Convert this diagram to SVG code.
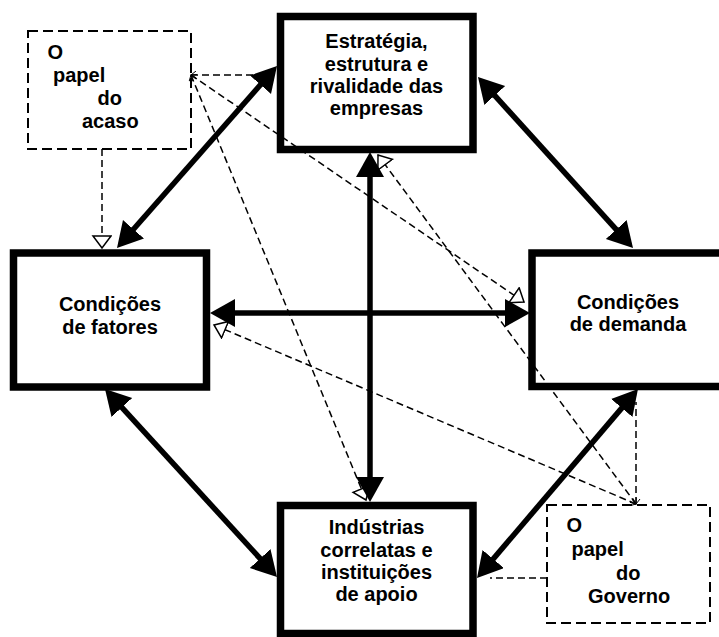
<svg xmlns="http://www.w3.org/2000/svg" width="719" height="637" viewBox="0 0 719 637">
<style>
.box{fill:#fff;stroke:#000;stroke-width:7.5}
.chance{fill:#fff;stroke:#000;stroke-width:2;stroke-dasharray:10 5}
.t{font-family:"Liberation Sans",Arial,sans-serif;font-weight:bold;font-size:20px;fill:#000}
.c{text-anchor:middle}
.solid{stroke:#000;stroke-width:5.5;fill:none;marker-start:url(#big);marker-end:url(#big)}
.dash{stroke:#000;stroke-width:1.5;fill:none;stroke-dasharray:7 4}
.tip{marker-end:url(#small)}
.src{marker-start:url(#open)}
</style>
<defs>
<marker id="big" markerUnits="userSpaceOnUse" markerWidth="26" markerHeight="30" refX="15" refY="14" orient="auto-start-reverse">
<path d="M0,0 L25,14 L0,28 Z" fill="#000"/>
</marker>
<marker id="small" markerUnits="userSpaceOnUse" markerWidth="16" markerHeight="22" refX="13" refY="10" orient="auto">
<path d="M1,1 L13,10 L1,19 Z" fill="#fff" stroke="#000" stroke-width="1.5"/>
</marker>
<marker id="open" markerUnits="userSpaceOnUse" markerWidth="10" markerHeight="10" refX="1" refY="4" orient="auto">
<path d="M6,0 L1,4 L6,8" fill="none" stroke="#000" stroke-width="1"/>
</marker>
</defs>

<g id="estrategia">
<rect class="box" x="280.5" y="16.5" width="192.5" height="133"/>
<text class="t c" x="376.5" y="48">Estratégia,</text>
<text class="t c" x="376.5" y="70.5">estrutura e</text>
<text class="t c" x="376.5" y="92.5">rivalidade das</text>
<text class="t c" x="376.5" y="114.5">empresas</text>
</g>
<g id="fatores">
<rect class="box" x="13.5" y="253" width="193" height="134"/>
<text class="t c" x="110" y="311">Condições</text>
<text class="t c" x="110" y="334">de fatores</text>
</g>
<g id="demanda">
<rect class="box" x="532" y="253" width="193" height="133.5"/>
<text class="t c" x="628" y="308.5">Condições</text>
<text class="t c" x="628" y="331">de demanda</text>
</g>
<g id="industrias">
<rect class="box" x="280.5" y="505.5" width="192.5" height="128"/>
<text class="t c" x="376.5" y="534">Indústrias</text>
<text class="t c" x="376.5" y="556.5">correlatas e</text>
<text class="t c" x="376.5" y="578.5">instituições</text>
<text class="t c" x="376.5" y="600.5">de apoio</text>
</g>
<g id="acaso">
<rect class="chance" x="28" y="31" width="163" height="118"/>
<text class="t" x="47.5" y="58.5">O</text>
<text class="t" x="53" y="81.5">papel</text>
<text class="t" x="97.5" y="105">do</text>
<text class="t" x="82" y="128">acaso</text>
</g>
<g id="governo">
<rect class="chance" x="547" y="505" width="163" height="118"/>
<text class="t" x="566.5" y="531.5">O</text>
<text class="t" x="571.5" y="556">papel</text>
<text class="t" x="616" y="579.5">do</text>
<text class="t" x="588" y="602.5">Governo</text>
</g>

<g id="connectors">
<line class="dash tip" x1="102" y1="149" x2="102" y2="248"/>
<line class="dash src" x1="191" y1="75" x2="272" y2="75"/>
<line class="dash src tip" x1="191" y1="75" x2="524" y2="302"/>
<line class="dash src tip" x1="191" y1="75" x2="366" y2="500"/>
<line class="dash src" x1="636" y1="504" x2="636" y2="402"/>
<line class="dash src tip" x1="636" y1="504" x2="378" y2="155"/>
<line class="dash src tip" x1="636" y1="504" x2="214" y2="325"/>
<line class="dash" x1="547" y1="578" x2="490" y2="578"/>
<line class="solid" x1="123.6" y1="240.5" x2="270.4" y2="73.5"/>
<line class="solid" x1="484.7" y1="84.4" x2="626.3" y2="240.6"/>
<line class="solid" x1="370" y1="162" x2="370" y2="492"/>
<line class="solid" x1="220" y1="313" x2="520" y2="313"/>
<line class="solid" x1="111.75" y1="396.4" x2="270.25" y2="569.6"/>
<line class="solid" x1="631.5" y1="396.6" x2="483.5" y2="570.4"/>
</g>
</svg>
